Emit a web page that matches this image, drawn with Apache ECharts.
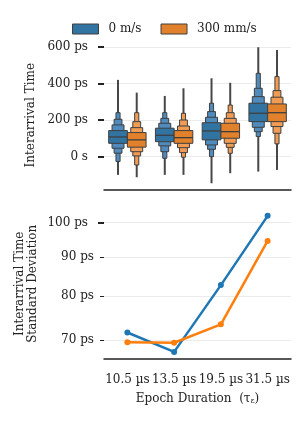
<!DOCTYPE html>
<html><head><meta charset="utf-8">
<script src="https://cdn.jsdelivr.net/npm/echarts@6/dist/echarts.min.js"></script>
<style>html,body{margin:0;padding:0;background:#fff}#c{width:304px;height:422px}</style>
</head><body><div id="c"></div>
<script>
const categories = ['10.5 µs', '13.5 µs', '19.5 µs', '31.5 µs'];
const seriesNames = ['0 m/s', '300 mm/s'];
// letter values per category: [lowest, L4lo, L3lo, L2lo, Q1, median, Q3, L2hi, L3hi, L4hi, highest] (ps)
const boxen0 = [
  [-100, -27, 19, 46, 73, 108, 143, 174, 205, 241, 421],
  [-100, -9, 27, 59, 82, 117, 156, 183, 210, 241, 333],
  [-146, 0, 40, 64, 92, 141, 186, 216, 247, 293, 430],
  [-82, 110, 137, 161, 192, 238, 293, 329, 375, 457, 600]
];
const boxen300 = [
  [-113, -46, 4, 27, 52, 92, 132, 159, 192, 241, 351],
  [-100, -3, 22, 49, 73, 104, 143, 168, 201, 238, 375],
  [-91, 18, 51, 73, 101, 137, 183, 210, 241, 283, 405],
  [-73, 70, 128, 165, 192, 241, 289, 326, 362, 439, 585]
];
const std0 = [71.6, 67.5, 82.7, 102.1];
const std300 = [69.5, 69.4, 73.4, 94.6];
const topTicks = [0, 200, 400, 600];
const bottomTicks = [70, 80, 90, 100];

const FONT = 'DejaVu Serif';
const TXT = '#222';
const blue = ['#3274a1', '#4f8bbd'];
const orange = ['#e1812c', '#f19c55'];
const edge = '#3f3f3f';

function makeRender(hue, cols) {
  return function (params, api) {
    const cat = api.value(0);
    const v = [];
    for (let i = 1; i <= 11; i++) v.push(api.value(i));
    const center = api.coord([cat, 0])[0];
    const band = api.size([1, 0])[0];
    const bw = band * 0.4;
    const cx = center + (hue === 0 ? -1 : 1) * band * 0.2;
    const y = val => api.coord([cat, val])[1];
    const children = [];
    children.push({type: 'line', shape: {x1: cx, y1: y(v[0]), x2: cx, y2: y(v[10])},
      style: {stroke: '#474747', lineWidth: 2}});
    const fr = [0.22, 0.42, 0.64, 1.0];
    for (let k = 0; k < 4; k++) {
      const lo = v[1 + k], hi = v[9 - k];
      const w = bw * fr[k];
      const y1 = y(hi), y2 = y(lo);
      children.push({type: 'rect', shape: {x: cx - w / 2, y: y1, width: w, height: y2 - y1},
        style: {fill: k === 3 ? cols[0] : cols[1], stroke: edge, lineWidth: 1}});
    }
    const ym = y(v[5]);
    children.push({type: 'line', shape: {x1: cx - bw / 2, y1: ym, x2: cx + bw / 2, y2: ym},
      style: {stroke: edge, lineWidth: 1.3}});
    return {type: 'group', children};
  };
}

const lg = v => Math.log10(v);
const botMin = 1.8207, botMax = 2.0178;

const chart = echarts.init(document.getElementById('c'), null, {renderer: 'canvas'});
chart.setOption({
  animation: false,
  textStyle: {fontFamily: FONT},
  legend: {
    left: 67, top: 18, itemWidth: 26, itemHeight: 10, itemGap: 19,
    textStyle: {fontFamily: FONT, fontSize: 12, color: TXT, padding: [0, 0, 0, 5]},
    data: [
      {name: seriesNames[0], icon: 'rect', itemStyle: {color: blue[0], borderColor: edge, borderWidth: 1}},
      {name: seriesNames[1], icon: 'rect', itemStyle: {color: orange[0], borderColor: edge, borderWidth: 1}}
    ]
  },
  grid: [
    {left: 104, right: 13, top: 40.5, height: 149.5},
    {left: 104, right: 13, top: 209.2, height: 149.2}
  ],
  xAxis: [
    {type: 'category', gridIndex: 0, data: categories,
     axisLine: {onZero: false, lineStyle: {color: TXT, width: 1.5}},
     axisTick: {alignWithLabel: true, length: 6, lineStyle: {color: TXT, width: 1.5}},
     axisLabel: {show: false}},
    {type: 'category', gridIndex: 1, data: categories,
     axisLine: {onZero: false, lineStyle: {color: TXT, width: 1.5}},
     axisTick: {alignWithLabel: true, length: 6, lineStyle: {color: TXT, width: 1.5}},
     axisLabel: {fontFamily: FONT, fontSize: 12, color: TXT, margin: 15, interval: 0},
     name: '{n|Epoch Duration  (τ}{s|ε}{n|)}', nameLocation: 'middle', nameGap: 33,
     nameTextStyle: {rich: {n: {fontFamily: FONT, fontSize: 12, color: TXT},
                            s: {fontFamily: FONT, fontSize: 8, color: TXT, verticalAlign: 'bottom', padding: [6, 0, 0, 0]}}}}
  ],
  yAxis: [
    {type: 'value', gridIndex: 0, min: -183, max: 637,
     axisLine: {show: false},
     axisTick: {show: true, length: 6, customValues: topTicks, lineStyle: {color: TXT, width: 2}},
     axisLabel: {customValues: topTicks, fontFamily: FONT, fontSize: 12, color: TXT, margin: 16,
                 formatter: v => v === 0 ? '0 s' : v + ' ps'},
     splitLine: {show: true, lineStyle: {color: '#ebebeb', width: 1}},
     name: 'Interarrival Time', nameLocation: 'middle', nameGap: 65,
     nameTextStyle: {fontFamily: FONT, fontSize: 12, color: TXT}},
    {type: 'value', gridIndex: 1, min: botMin, max: botMax,
     axisLine: {show: false},
     axisTick: {show: true, length: 4, customValues: bottomTicks.slice(0, 3).map(lg), lineStyle: {color: TXT, width: 1}},
     axisLabel: {customValues: bottomTicks.slice(0, 3).map(lg), fontFamily: FONT, fontSize: 12, color: TXT, margin: 10,
                 formatter: v => Math.round(Math.pow(10, v)) + ' ps'},
     splitLine: {show: true, lineStyle: {color: '#ebebeb', width: 1}},
     name: 'Interarrival Time\nStandard Deviation', nameLocation: 'middle', nameGap: 65,
     nameTextStyle: {fontFamily: FONT, fontSize: 12, color: TXT, lineHeight: 13}},
    {type: 'value', gridIndex: 1, min: botMin, max: botMax, position: 'left',
     axisLine: {show: false},
     axisTick: {show: true, length: 6, customValues: [lg(bottomTicks[3])], lineStyle: {color: TXT, width: 2}},
     axisLabel: {customValues: [lg(bottomTicks[3])], fontFamily: FONT, fontSize: 12, color: TXT, margin: 16,
                 formatter: v => Math.round(Math.pow(10, v)) + ' ps'},
     splitLine: {show: true, lineStyle: {color: '#ebebeb', width: 1}}}
  ],
  series: [
    {type: 'custom', name: seriesNames[0], xAxisIndex: 0, yAxisIndex: 0,
     renderItem: makeRender(0, blue), itemStyle: {color: blue[0]},
     encode: {x: 0, y: [1, 2, 3, 4, 5, 6, 7, 8, 9, 10, 11]},
     data: boxen0.map((r, i) => [i].concat(r)), z: 3},
    {type: 'custom', name: seriesNames[1], xAxisIndex: 0, yAxisIndex: 0,
     renderItem: makeRender(1, orange), itemStyle: {color: orange[0]},
     encode: {x: 0, y: [1, 2, 3, 4, 5, 6, 7, 8, 9, 10, 11]},
     data: boxen300.map((r, i) => [i].concat(r)), z: 3},
    {type: 'line', name: seriesNames[0], xAxisIndex: 1, yAxisIndex: 1,
     data: std0.map(lg), symbol: 'circle', symbolSize: 6,
     lineStyle: {color: '#1f77b4', width: 2.5}, itemStyle: {color: '#1f77b4'}, z: 4},
    {type: 'line', name: seriesNames[1], xAxisIndex: 1, yAxisIndex: 1,
     data: std300.map(lg), symbol: 'circle', symbolSize: 6,
     lineStyle: {color: '#ff7f0e', width: 2.5}, itemStyle: {color: '#ff7f0e'}, z: 4}
  ]
});
</script></body></html>
